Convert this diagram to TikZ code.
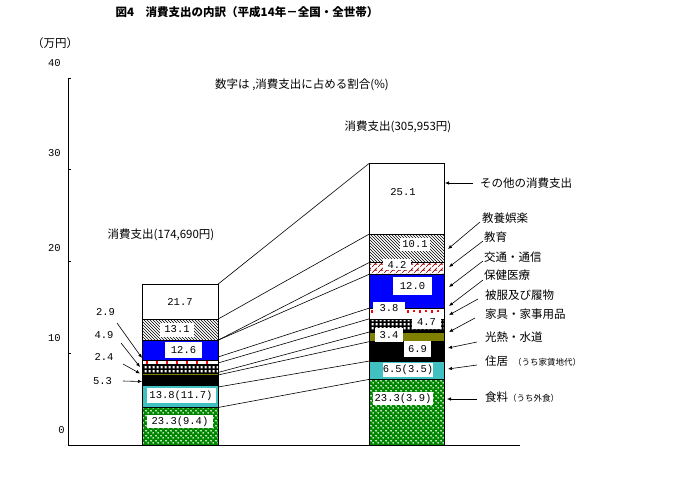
\documentclass[tikz,border=0pt]{standalone}
\usepackage{fontspec}
\setmainfont{Noto Sans CJK JP}
\newfontfamily\jp{Noto Sans CJK JP}
\newfontfamily\mono{Liberation Mono}
\usetikzlibrary{patterns,arrows.meta}
\definecolor{fgreen}{RGB}{0,135,0}
\definecolor{hcyan}{RGB}{64,192,192}
\definecolor{folive}{RGB}{128,128,0}
\definecolor{tblue}{RGB}{0,0,255}
\definecolor{dred}{RGB}{150,0,0}
\pgfdeclarepatternformonly{wdots}{\pgfqpoint{0pt}{0pt}}{\pgfqpoint{5pt}{5pt}}{\pgfqpoint{5pt}{5pt}}{%
  \pgfpathcircle{\pgfqpoint{1.25pt}{3.75pt}}{1.05pt}%
  \pgfpathcircle{\pgfqpoint{3.75pt}{1.25pt}}{1.05pt}%
  \pgfusepath{fill}}
\pgfdeclarepatternformonly{wsq}{\pgfqpoint{0pt}{0pt}}{\pgfqpoint{3.6pt}{3.6pt}}{\pgfqpoint{3.6pt}{3.6pt}}{%
  \pgfpathrectangle{\pgfqpoint{0.6pt}{0.6pt}}{\pgfqpoint{2.4pt}{2.4pt}}%
  \pgfusepath{fill}}
\pgfdeclarepatternformonly{brick}{\pgfqpoint{0pt}{0pt}}{\pgfqpoint{6pt}{6pt}}{\pgfqpoint{6pt}{6pt}}{%
  \pgfsetlinewidth{0.7pt}%
  \pgfpathmoveto{\pgfqpoint{0pt}{0pt}}\pgfpathlineto{\pgfqpoint{6pt}{6pt}}%
  \pgfpathmoveto{\pgfqpoint{3pt}{3pt}}\pgfpathlineto{\pgfqpoint{6pt}{3pt}}%
  \pgfusepath{stroke}}
\tikzset{
  seg/.style={draw=black, line width=0.6pt},
  frame/.style={draw=black, line width=0.8pt},
  sline/.style={draw=black, line width=0.6pt},
  arr/.style={draw=black, line width=0.6pt, -{Latex[length=4pt,width=3.5pt]}},
  val/.style={fill=white, inner sep=0pt, font=\mono\fontsize{10.5}{10.5}\selectfont},
  jtxt/.style={inner sep=0pt, font=\jp\fontsize{11.5}{12}\selectfont},
  ltxt/.style={jtxt, anchor=west},
  axn/.style={inner sep=0pt, anchor=east, font=\mono\fontsize{10.5}{10.5}\selectfont},
  tick/.style={red, line width=1.1pt},
}
\begin{document}
\begin{tikzpicture}[x=1pt,y=-1pt]
\useasboundingbox (0,0) rectangle (680,488);
\fill[white] (0,0) rectangle (680,488);

% title and notes
\node[jtxt, font=\jp\bfseries\fontsize{11.5}{12}\selectfont] (title) at (247,12) {図4\quad 消費支出の内訳（平成14年－全国・全世帯）};
\node[jtxt] (unit) at (55,43) {（万円）};
\node[jtxt] (note) at (302,85) {数字は ,消費支出に占める割合(\%)};
\node[jtxt] (totR) at (398,127) {消費支出(305,953円)};
\node[jtxt] (totL) at (161,235) {消費支出(174,690円)};

% axis
\draw[line width=0.8pt] (68,78) -- (68,445) -- (520,445);
\foreach \y in {78,169,261,353} \draw[line width=0.8pt] (68,\y) -- (71,\y);
\node[axn] (a40) at (61,63) {40};
\node[axn] (a30) at (61,153) {30};
\node[axn] (a20) at (61,248) {20};
\node[axn] (a10) at (61,338) {10};
\node[axn] (a0) at (65,430) {0};

% ---------- left bar ----------
\fill[white] (142,284.2) rectangle (218,445);
\fill[fgreen] (142,407) rectangle (218,445);
\fill[pattern=wdots, pattern color=white] (142,407) rectangle (218,445);
\fill[hcyan] (142,385.5) rectangle (218,407);
\fill[black] (142,375.5) rectangle (218,385.5);
\fill[folive] (142,373) rectangle (218,375.5);
\fill[black] (142,364.5) rectangle (218,373);
\fill[pattern=wsq, pattern color=white] (142,365.2) rectangle (218,372.4);
\foreach \x in {147,157,...,215} \draw[tick] (\x,360.8) -- (\x,363.5);
\fill[tblue] (142,340.2) rectangle (218,360.3);
\fill[pattern=north west lines] (142,319.1) rectangle (218,340.2);
\foreach \y in {319.1,340.2,360.3,364.5,373,375.5,385.5,407} \draw[seg] (142,\y) -- (218,\y);
\draw[frame] (142,284.2) rectangle (218,445);

\node[val] (l217) at (180,302) {21.7};
\node[val, minimum width=34pt, minimum height=14pt] (l131) at (177,329.5) {13.1};
\node[val, minimum width=37pt, minimum height=16pt] (l126) at (183.5,350) {12.6};
\node[val, minimum width=69pt, minimum height=15pt] (l138) at (181,395.5) {13.8(11.7)};
\node[val, minimum width=66pt, minimum height=13pt] (l233) at (180,421.5) {23.3(9.4)};

% ---------- right bar ----------
\fill[white] (369,163.5) rectangle (444,445);
\fill[fgreen] (369,379.4) rectangle (444,445);
\fill[pattern=wdots, pattern color=white] (369,379.4) rectangle (444,445);
\fill[hcyan] (369,361.1) rectangle (444,379.4);
\fill[black] (369,341.7) rectangle (444,361.1);
\fill[folive] (369,332.1) rectangle (444,341.7);
\fill[black] (369,318.9) rectangle (444,332.1);
\fill[pattern=wsq, pattern color=white] (369,319.6) rectangle (444,329);
\fill[tblue] (369,274.4) rectangle (444,308.2);
\fill[pattern=brick, pattern color=dred] (369,262.6) rectangle (444,274.4);
\fill[pattern=north west lines] (369,234.2) rectangle (444,262.6);
\foreach \y in {234.2,262.6,274.4,308.2,318.9,332.1,341.7,361.1,379.4} \draw[seg] (369,\y) -- (444,\y);
\draw[frame] (369,163.5) rectangle (444,445);

\node[val] (r251) at (403,192) {25.1};
\node[val, minimum width=30pt, minimum height=13pt] (r101) at (415,244.5) {10.1};
\node[val, minimum width=28pt, minimum height=11pt] (r42) at (397,264.5) {4.2};
\node[val, minimum width=39pt, minimum height=18pt] (r120) at (412.5,286) {12.0};
\node[val, minimum width=32pt, minimum height=13pt] (r38) at (389,308.5) {3.8};
\foreach \x/\h in {408/313, 414/311.5, 420/313, 426/311.5, 432/313, 438/311.5} \draw[tick] (\x,309.5) -- (\x,\h);
\draw[tick] (372,310) -- (372,313);
\node[val, minimum width=29pt, minimum height=13pt] (r47) at (426.5,322) {4.7};
\node[val, minimum width=28pt, minimum height=14pt] (r34) at (389,335) {3.4};
\node[val, minimum width=27pt, minimum height=16pt] (r69) at (417.5,349) {6.9};
\node[val, minimum width=50pt, minimum height=14pt] (r65) at (408,370) {6.5(3.5)};
\node[val, minimum width=60pt, minimum height=13pt] (r233) at (403,398.5) {23.3(3.9)};

% ---------- series lines ----------
\foreach \n/\yl/\yr in {1/284.2/163.5, 2/319.1/234.2, 3/340.2/262.6, 4/340.2/274.4, 5/357/308.2,
                         6/363/318.9, 7/372.5/332.1, 8/375/341.7, 9/387/361.1, 10/407.5/379.4} {
  \coordinate (sl\n) at (218,\yl);
  \coordinate (sr\n) at (369,\yr);
  \draw[sline] (sl\n) -- (sr\n);
}

% ---------- left small labels ----------
\node[val] (t29) at (105.5,312) {2.9};
\node[val] (t49) at (104,335) {4.9};
\node[val] (t24) at (104,357) {2.4};
\node[val] (t53) at (102.5,381) {5.3};
\coordinate (p29) at (142,358);
\coordinate (p49) at (140,367);
\coordinate (p24) at (140,373.5);
\coordinate (p53) at (142,381.5);
\draw[arr] (117,323) -- (p29);
\draw[arr] (121,343) -- (p49);
\draw[arr] (123,364) -- (p24);
\draw[arr] (123,381) -- (p53);

% ---------- right legend labels ----------
\node[ltxt] (k1) at (480,183) {その他の消費支出};
\node[ltxt] (k2) at (482,218) {教養娯楽};
\node[ltxt] (k3) at (484,237) {教育};
\node[ltxt] (k4) at (484,257) {交通・通信};
\node[ltxt] (k5) at (484,275) {保健医療};
\node[ltxt] (k6) at (485,295) {被服及び履物};
\node[ltxt] (k7) at (485,314) {家具・家事用品};
\node[ltxt] (k8) at (485,337) {光熱・水道};
\node[ltxt] (k9) at (485,361) {住居\hspace{5pt}{\fontsize{8.5}{9}\selectfont （うち家賃地代）}};
\node[ltxt] (k10) at (485,397) {食料{\fontsize{8.5}{9}\selectfont （うち外食）}};

\coordinate (q1) at (445,183);
\coordinate (q2) at (448,249);
\coordinate (q3) at (449,267);
\coordinate (q4) at (449,287);
\coordinate (q5) at (449,306);
\coordinate (q6) at (449,315);
\coordinate (q7) at (449,332);
\coordinate (q8) at (448,348);
\coordinate (q9) at (448,369);
\coordinate (q10) at (447,399);
\draw[arr] (473,183) -- (q1);
\draw[arr] (480,222) -- (q2);
\draw[arr] (483,241) -- (q3);
\draw[arr] (483,261) -- (q4);
\draw[arr] (483,280) -- (q5);
\draw[arr] (478,299) -- (q6);
\draw[arr] (475,318) -- (q7);
\draw[arr] (477,342) -- (q8);
\draw[arr] (477,365) -- (q9);
\draw[arr] (477,399) -- (q10);
\end{tikzpicture}
\end{document}
